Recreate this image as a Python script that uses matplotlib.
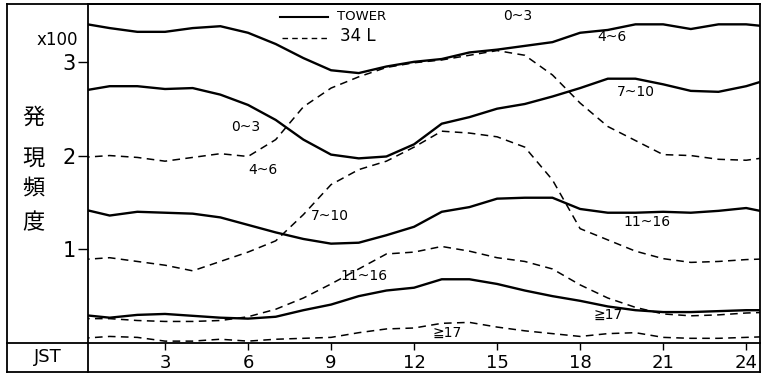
import matplotlib
matplotlib.use('Agg')
import matplotlib.pyplot as plt
from matplotlib.lines import Line2D

plt.rcParams['font.family'] = ['DejaVu Sans', 'Noto Sans CJK JP']

hours = list(range(0, 26))

# TOWER (solid)
tower_4_6 = [3.41, 3.36, 3.32, 3.32, 3.36, 3.38, 3.31, 3.19, 3.04, 2.91, 2.88, 2.95, 3.00,
             3.03, 3.10, 3.13, 3.17, 3.21, 3.31, 3.34, 3.40, 3.40, 3.35, 3.40, 3.40, 3.37]
tower_7_10 = [2.69, 2.74, 2.74, 2.71, 2.72, 2.65, 2.54, 2.38, 2.17, 2.01, 1.97, 1.99, 2.12,
              2.34, 2.41, 2.50, 2.55, 2.63, 2.72, 2.82, 2.82, 2.76, 2.69, 2.68, 2.74, 2.83]
tower_11_16 = [1.43, 1.36, 1.40, 1.39, 1.38, 1.34, 1.26, 1.18, 1.11, 1.06, 1.07, 1.15, 1.24,
               1.40, 1.45, 1.54, 1.55, 1.55, 1.43, 1.39, 1.39, 1.40, 1.39, 1.41, 1.44, 1.38]
tower_17 = [0.30, 0.27, 0.30, 0.31, 0.29, 0.27, 0.26, 0.28, 0.35, 0.41, 0.50, 0.56, 0.59,
            0.68, 0.68, 0.63, 0.56, 0.50, 0.45, 0.39, 0.35, 0.33, 0.33, 0.34, 0.35, 0.35]

# 34L (dashed)
l34_0_3 = [1.98, 2.00, 1.98, 1.94, 1.98, 2.02, 1.99, 2.17, 2.52, 2.72, 2.84, 2.94, 2.99,
           3.02, 3.07, 3.12, 3.07, 2.86, 2.56, 2.31, 2.16, 2.01, 2.00, 1.96, 1.95, 1.99]
l34_4_6 = [0.89, 0.91, 0.87, 0.83, 0.77, 0.87, 0.97, 1.09, 1.37, 1.69, 1.85, 1.94, 2.09,
           2.26, 2.24, 2.20, 2.09, 1.74, 1.22, 1.10, 0.98, 0.90, 0.86, 0.87, 0.89, 0.90]
l34_7_10 = [0.26, 0.26, 0.24, 0.23, 0.23, 0.24, 0.28, 0.36, 0.48, 0.63, 0.79, 0.95, 0.97,
            1.03, 0.98, 0.91, 0.87, 0.79, 0.62, 0.48, 0.38, 0.31, 0.29, 0.30, 0.32, 0.33]
l34_17 = [0.05, 0.07, 0.06, 0.02, 0.02, 0.04, 0.02, 0.04, 0.05, 0.06, 0.11, 0.15, 0.16,
          0.21, 0.22, 0.17, 0.13, 0.10, 0.07, 0.10, 0.11, 0.06, 0.05, 0.05, 0.06, 0.07]

xticks = [3, 6, 9, 12, 15, 18, 21, 24]
yticks = [1, 2, 3]

# curve labels: text, hour, value
labels = [('0~3', 15.76, 3.49), ('4~6', 19.15, 3.26), ('7~10', 20.0, 2.68),
          ('11~16', 20.4, 1.29), ('≧17', 19.0, 0.30),
          ('0~3', 5.9, 2.30), ('4~6', 6.55, 1.85), ('7~10', 8.96, 1.36),
          ('11~16', 10.2, 0.71), ('≧17', 13.2, 0.11)]

W, H = 761, 373
fig = plt.figure(figsize=(W / 100, H / 100), dpi=100)
ax = fig.add_axes([88 / W, 1 - 343 / H, (760 - 88) / W, (343 - 4) / H])

for ys in [tower_4_6, tower_7_10, tower_11_16, tower_17]:
    ax.plot(hours, ys, color='black', lw=1.7, solid_capstyle='round', solid_joinstyle='round')
for ys in [l34_0_3, l34_4_6, l34_7_10, l34_17]:
    ax.plot(hours, ys, color='black', lw=1.1, dashes=(5, 3.5))

ax.set_xlim(0.217, 24.5)
ax.set_ylim(0, 3.617)
ax.set_xticks(xticks)
ax.set_xticklabels([str(t) for t in xticks], fontsize=13)
ax.set_yticks(yticks)
ax.set_yticklabels([str(t) for t in yticks], fontsize=15)
ax.tick_params(axis='x', direction='out', length=5, width=1, pad=3)
ax.tick_params(axis='y', direction='out', length=7, width=1, pad=2)
for s in ax.spines.values():
    s.set_linewidth(1.3)

for txt, hx, vy in labels:
    ax.text(hx, vy, txt, fontsize=10, ha='center', va='center')

# legend drawn by hand
def px(x, y):
    return x / W, 1 - y / H

fig.add_artist(Line2D([280 / W, 328 / W], [1 - 17 / H, 1 - 17 / H], color='black', lw=1.5))
fig.add_artist(Line2D([282 / W, 327 / W], [1 - 38 / H, 1 - 38 / H], color='black', lw=1.0,
                      dashes=(4, 3)))
fig.text(*px(337, 16), 'TOWER', fontsize=9.5, va='center', ha='left')
fig.text(*px(340, 36), '34 L', fontsize=12, va='center', ha='left')

# outer frame
frame = [([7, 760], [4, 4]), ([7, 7], [4, 372]), ([7, 760], [372, 372]),
         ([7, 88], [343, 343]), ([88, 88], [343, 372]), ([760, 760], [343, 372])]
for xs, ys in frame:
    fig.add_artist(Line2D([x / W for x in xs], [1 - y / H for y in ys], color='black', lw=1.3))

fig.text(*px(57, 40), 'x100', fontsize=12, ha='center', va='center')
for ch, yy in zip('発現頻度', [117, 159, 189, 223]):
    fig.text(*px(33, yy), ch, fontsize=16, ha='center', va='center',
             family=['Noto Sans CJK JP', 'DejaVu Sans'])
fig.text(*px(48, 357), 'JST', fontsize=13, ha='center', va='center')

fig.savefig('out.png', dpi=100, facecolor='white')
